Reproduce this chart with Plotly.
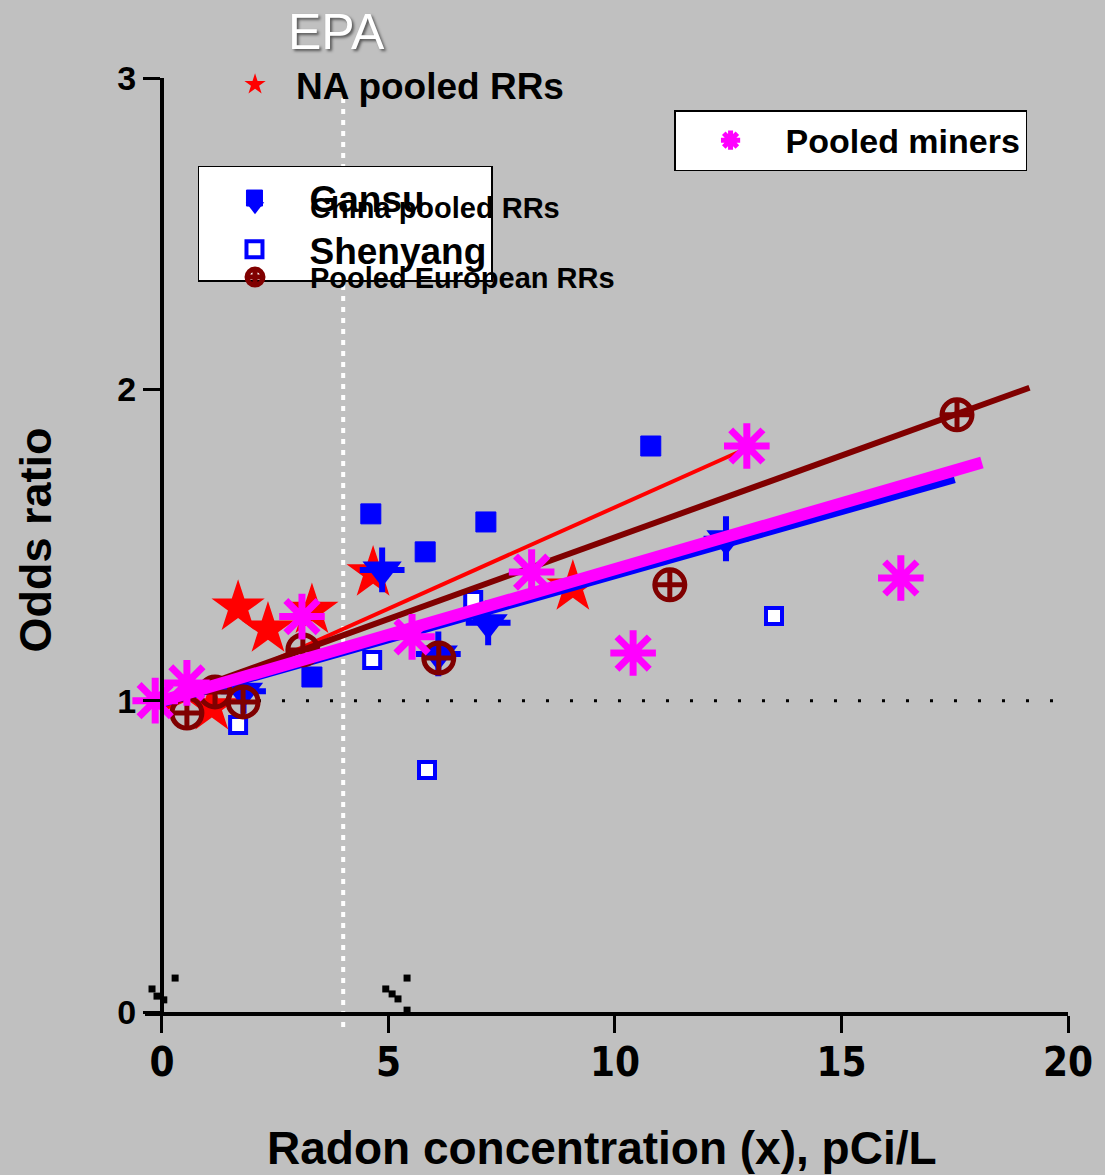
import plotly.graph_objects as go

# ---------------- data ----------------
# NA pooled RRs (red stars) and its fitted line
na_x = [1.1, 1.68, 2.34, 3.31, 4.66, 9.07]
na_y = [0.98, 1.30, 1.23, 1.29, 1.41, 1.365]
na_fit_x = [0.0, 12.9]
na_fit_y = [0.97, 1.81]

# China pooled RRs (blue down-triangles) and fitted line
china_x = [1.8, 4.86, 6.1, 7.2, 12.45]
china_y = [1.03, 1.42, 1.15, 1.25, 1.52]
china_fit_x = [0.0, 17.5]
china_fit_y = [0.99, 1.71]

# Gansu (filled blue squares)
gansu_x = [3.31, 4.61, 5.81, 7.15, 10.79]
gansu_y = [1.076, 1.60, 1.478, 1.574, 1.818]

# Shenyang (open blue squares)
shen_x = [1.68, 4.64, 5.85, 6.87, 13.51]
shen_y = [0.922, 1.131, 0.777, 1.323, 1.272]

# Pooled European RRs (dark red circle-cross) and fitted line
eu_x = [0.55, 1.17, 1.79, 3.11, 6.11, 11.21, 17.55]
eu_y = [0.96, 1.028, 0.996, 1.163, 1.137, 1.372, 1.918]
eu_fit_x = [0.0, 19.15]
eu_fit_y = [1.0, 2.005]

# Pooled miners (magenta asterisks) and fitted line
miners_x = [-0.15, 0.55, 3.09, 5.52, 8.16, 10.40, 12.91, 16.31]
miners_y = [1.00, 1.057, 1.27, 1.205, 1.413, 1.153, 1.818, 1.394]
miners_fit_x = [0.0, 18.1]
miners_fit_y = [1.0, 1.765]

# stray black marks near the x axis
stray_x = [-0.22, -0.11, 0.04, 0.02, 0.29, 4.94, 5.08, 5.21, 5.41, 5.19, 5.41]
stray_y = [0.074, 0.051, 0.039, -0.006, 0.109, 0.074, 0.058, 0.042, 0.006, -0.013, 0.109]

# reference levels
epa_level = 4.0
or_one = 1.0

x_ticks = [0, 5, 10, 15, 20]
y_ticks = [0, 1, 2, 3]
x_range = [-0.375, 20]
y_range = [0, 3]

RED = "#ff0000"
BLUE = "#0000ff"
DKRED = "#800000"
MAG = "#ff00ff"
BG = "#c0c0c0"
FONT = "Liberation Sans, Arial, Helvetica, sans-serif"
NARROW = "Liberation Sans Narrow, Arial Narrow, DejaVu Sans Condensed, Liberation Sans, Arial, sans-serif"

fig = go.Figure()

# stray marks
fig.add_trace(go.Scatter(x=stray_x, y=stray_y, mode="markers", showlegend=False,
                         marker=dict(symbol="square", size=7, color="black"),
                         cliponaxis=False, hoverinfo="skip"))

# NA pooled
fig.add_trace(go.Scatter(x=na_x, y=na_y, mode="markers", name="NA pooled RRs",
                         legend="legend",
                         marker=dict(symbol="star", size=40, color=RED,
                                     line=dict(width=0)),
                         cliponaxis=False))
fig.add_trace(go.Scatter(x=na_fit_x, y=na_fit_y, mode="lines", showlegend=False,
                         line=dict(color=RED, width=4)))

# Shenyang
fig.add_trace(go.Scatter(x=shen_x, y=shen_y, mode="markers", name="Shenyang",
                         legend="legend3", legendrank=2,
                         marker=dict(symbol="square", size=16, color="white",
                                     line=dict(color=BLUE, width=4)),
                         cliponaxis=False))
# Gansu
fig.add_trace(go.Scatter(x=gansu_x, y=gansu_y, mode="markers", name="Gansu",
                         legend="legend3", legendrank=1,
                         marker=dict(symbol="square", size=20, color=BLUE,
                                     line=dict(color=BLUE, width=1)),
                         cliponaxis=False))

# China pooled
fig.add_trace(go.Scatter(x=china_fit_x, y=china_fit_y, mode="lines", showlegend=False,
                         line=dict(color=BLUE, width=7)))
fig.add_trace(go.Scatter(x=china_x, y=china_y, mode="markers", name="China pooled RRs",
                         legend="legend4", legendgroup="china",
                         marker=dict(symbol="triangle-down", size=34, color=BLUE,
                                     line=dict(width=0)),
                         cliponaxis=False))
fig.add_trace(go.Scatter(x=china_x, y=china_y, mode="markers", showlegend=False,
                         marker=dict(symbol="cross-thin-open", size=32, color=BLUE,
                                     line=dict(color=BLUE, width=6)),
                         cliponaxis=False, hoverinfo="skip"))

# European pooled
fig.add_trace(go.Scatter(x=eu_fit_x, y=eu_fit_y, mode="lines", showlegend=False,
                         line=dict(color=DKRED, width=6)))
fig.add_trace(go.Scatter(x=eu_x, y=eu_y, mode="markers", name="Pooled European RRs",
                         legend="legend4", legendgroup="europe",
                         marker=dict(symbol="circle-cross-open", size=30, color=DKRED,
                                     line=dict(color=DKRED, width=5)),
                         cliponaxis=False))

# Pooled miners
fig.add_trace(go.Scatter(x=miners_fit_x, y=miners_fit_y, mode="lines", showlegend=False,
                         line=dict(color=MAG, width=12)))
fig.add_trace(go.Scatter(x=miners_x, y=miners_y, mode="markers", name="Pooled miners",
                         legend="legend2",
                         marker=dict(symbol="asterisk-open", size=38, color=MAG,
                                     line=dict(color=MAG, width=7)),
                         cliponaxis=False))

# reference lines
fig.add_shape(type="line", xref="x", yref="y", x0=0, x1=20, y0=or_one, y1=or_one,
              line=dict(color="black", width=3, dash="3px,21px"), layer="below")
fig.add_shape(type="line", xref="x", yref="paper", x0=epa_level, x1=epa_level,
              y0=-0.016, y1=0.982,
              line=dict(color="white", width=4, dash="5px,6px"), layer="below")

# annotations
fig.add_annotation(text="EPA", xref="paper", yref="paper", x=0.208, y=1.049,
                   xanchor="center", yanchor="middle", showarrow=False,
                   font=dict(family=FONT, size=50, color="white",
                             shadow="2px 2px 3px rgba(0,0,0,0.55)"))
fig.add_annotation(text="Odds ratio", xref="paper", yref="paper", x=-0.119, y=0.505,
                   xanchor="center", yanchor="middle", showarrow=False, textangle=-90,
                   font=dict(family=FONT, size=45, color="black", weight="bold"))
fig.add_annotation(text="Radon concentration (x), pCi/L", xref="paper", yref="paper",
                   x=0.495, y=-0.1456, xanchor="center", yanchor="middle",
                   showarrow=False,
                   font=dict(family=FONT, size=46, color="black", weight="bold"))

fig.update_layout(
    width=1105, height=1175,
    paper_bgcolor=BG, plot_bgcolor=BG,
    margin=dict(l=145, r=37, t=78, b=163, autoexpand=False),
    xaxis=dict(range=x_range, tickvals=x_ticks, ticktext=[str(v) for v in x_ticks],
               showgrid=False, zeroline=False, showline=True, linecolor="black",
               linewidth=4, ticks="outside", ticklen=17, tickwidth=3,
               tickcolor="black", automargin=False, ticklabelstandoff=-5,
               tickfont=dict(family=NARROW, size=40, color="black", weight="bold")),
    yaxis=dict(range=y_range, tickvals=y_ticks, ticktext=[str(v) for v in y_ticks],
               showgrid=False, zeroline=False, showline=True, linecolor="black",
               linewidth=4, ticks="outside", ticklen=17, tickwidth=3,
               tickcolor="black", automargin=False, anchor="free",
               position=(0 - x_range[0]) / (x_range[1] - x_range[0]),
               tickfont=dict(family=FONT, size=34, color="black", weight="bold")),
    legend=dict(x=0.0748, y=1.0257, xanchor="left", yanchor="top",
                bgcolor="rgba(0,0,0,0)", borderwidth=0, itemwidth=72,
                font=dict(family=FONT, size=37, color="black", weight="bold")),
    legend2=dict(x=0.5732, y=0.9657, xanchor="left", yanchor="top",
                 bgcolor="white", bordercolor="black", borderwidth=1.5, itemwidth=100,
                 font=dict(family=FONT, size=34, color="black", weight="bold")),
    legend3=dict(x=0.0574, y=0.9058, xanchor="left", yanchor="top",
                 bgcolor="white", bordercolor="black", borderwidth=1.5, itemwidth=100,
                 font=dict(family=FONT, size=37, color="black", weight="bold")),
    legend4=dict(x=0.0596, y=0.8897, xanchor="left", yanchor="top",
                 bgcolor="rgba(0,0,0,0)", borderwidth=0, itemwidth=100,
                 tracegroupgap=30,
                 font=dict(family=FONT, size=29, color="black", weight="bold")),
    showlegend=True,
)

fig.write_html("out.html",
               config={"displayModeBar": False},
               post_script="document.body.style.margin='0';"
                           "document.body.style.overflow='hidden';")
